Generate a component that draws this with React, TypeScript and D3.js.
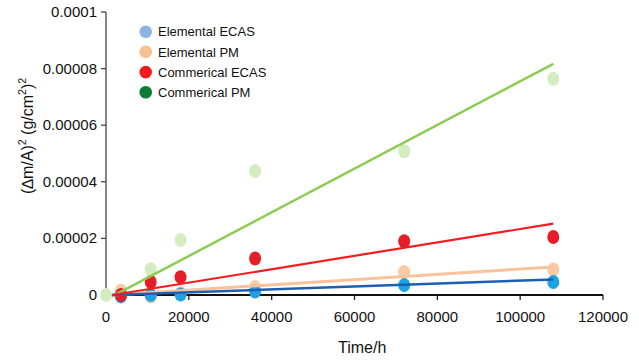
import React from "react";
import * as d3 from "d3";

const times = [3600, 10800, 18000, 36000, 72000, 108000];
const greenTimes = [0, 10800, 18000, 36000, 72000, 108000];

const elementalECAS = [-0.05e-5, 0.0e-5, 0.02e-5, 0.12e-5, 0.35e-5, 0.46e-5];
const elementalPM = [0.15e-5, -0.05e-5, 0.06e-5, 0.28e-5, 0.81e-5, 0.9e-5];
const commercialECAS = [0.0e-5, 0.46e-5, 0.63e-5, 1.29e-5, 1.9e-5, 2.05e-5];
const commercialPM = [0.0e-5, 0.91e-5, 1.94e-5, 4.38e-5, 5.08e-5, 7.64e-5];

const trendX = [1500, 108000];
const elementalECASTrend = [0, 0.55e-5];
const elementalPMTrend = [0, 0.99e-5];
const commercialECASTrend = [0, 2.52e-5];
const commercialPMTrend = [-0.05e-5, 8.17e-5];

const xTicks = [0, 20000, 40000, 60000, 80000, 100000, 120000];
const yTicks = [0, 0.00002, 0.00004, 0.00006, 0.00008, 0.0001];
const yTickLabels = ["0", "0.00002", "0.00004", "0.00006", "0.00008", "0.0001"];

const legendNames = ["Elemental ECAS", "Elemental PM", "Commerical ECAS", "Commerical PM"];
const legendColors = ["#8fb4e3", "#f6c095", "#f2191c", "#0e7d32"];

const FONT = "'Liberation Sans', Arial, Helvetica, sans-serif";

export default function App() {
  const W = 639;
  const H = 362;
  const x = d3.scaleLinear().domain([0, 120000]).range([106, 603]);
  const y = d3.scaleLinear().domain([0, 0.0001]).range([295, 12]);
  const line = d3
    .line<[number, number]>()
    .x((d) => x(d[0]))
    .y((d) => y(d[1]));

  const series = [
    { t: greenTimes, v: commercialPM, trend: commercialPMTrend, pt: "#d3ecc0", ln: "#8acd50", lw: 2.5 },
    { t: times, v: elementalPM, trend: elementalPMTrend, pt: "#fbc9a2", ln: "#f8c39a", lw: 3 },
    { t: times, v: elementalECAS, trend: elementalECASTrend, pt: "#1ca3e4", ln: "#1d5fb2", lw: 2.5 },
    { t: times, v: commercialECAS, trend: commercialECASTrend, pt: "#e51e29", ln: "#f41c1f", lw: 2.2 },
  ];

  return (
    <svg
      width={W}
      height={H}
      style={{ position: "absolute", left: 0, top: 0, background: "#fff" }}
      fontFamily={FONT}
    >
      {/* y axis */}
      <line x1={x(0)} x2={x(0)} y1={y(0.0001)} y2={y(0)} stroke="#444" strokeWidth={1.3} />
      {yTicks.map((t, i) => (
        <g key={"yt" + i}>
          <line x1={x(0) - 5} x2={x(0)} y1={y(t)} y2={y(t)} stroke="#444" strokeWidth={1.3} />
          <text x={x(0) - 9} y={y(t) + 5} textAnchor="end" fontSize={15} fill="#111">
            {yTickLabels[i]}
          </text>
        </g>
      ))}
      {/* x axis */}
      <line x1={x(0)} x2={x(120000)} y1={y(0)} y2={y(0)} stroke="#111" strokeWidth={1.8} />
      {xTicks.map((t, i) => (
        <g key={"xt" + i}>
          <line x1={x(t)} x2={x(t)} y1={y(0)} y2={y(0) + 5} stroke="#222" strokeWidth={1.3} />
          <text x={x(t)} y={322} textAnchor="middle" fontSize={15} fill="#111">
            {d3.format("d")(t)}
          </text>
        </g>
      ))}
      {/* points */}
      {series.map((s, i) => (
        <g key={"p" + i}>
          {s.v.map((v, j) => (
            <ellipse key={j} cx={x(s.t[j])} cy={y(v)} rx={6} ry={7} fill={s.pt} />
          ))}
        </g>
      ))}
      {/* trend lines */}
      {series.map((s, i) => (
        <path
          key={"l" + i}
          d={line(trendX.map((tx, k) => [tx, s.trend[k]] as [number, number])) || ""}
          fill="none"
          stroke={s.ln}
          strokeWidth={s.lw}
        />
      ))}
      {/* axis titles */}
      <text x={338} y={353} fontSize={16} fill="#111">
        Time/h
      </text>
      <text
        transform="translate(33,136) rotate(-90)"
        textAnchor="middle"
        fontSize={16}
        fill="#111"
      >
        (<tspan fontStyle="italic">∆</tspan>m/A)
        <tspan dy={-7} fontSize={10.5}>2</tspan>
        <tspan dy={7}> (g/cm</tspan>
        <tspan dy={-7} fontSize={10.5}>2</tspan>
        <tspan dy={7}>)</tspan>
        <tspan dy={-7} fontSize={10.5}>2</tspan>
      </text>
      {/* legend */}
      {legendNames.map((n, i) => (
        <g key={"lg" + i}>
          <circle cx={145.7} cy={31.7 + i * 20.2} r={6.3} fill={legendColors[i]} />
          <text x={158} y={31.7 + i * 20.2 + 4.7} fontSize={13} fill="#111">
            {n}
          </text>
        </g>
      ))}
    </svg>
  );
}
